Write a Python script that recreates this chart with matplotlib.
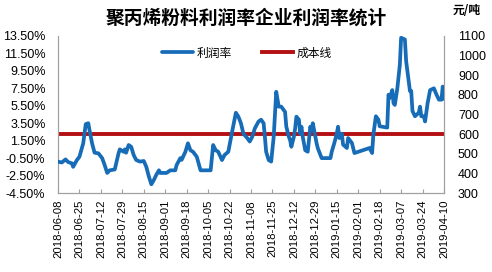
import matplotlib
matplotlib.use("Agg")
import matplotlib.pyplot as plt
import numpy as np
import pandas as pd

plt.rcParams['font.family'] = ['Liberation Sans', 'Noto Sans CJK SC', 'DejaVu Sans']

dates = [
    "2018-06-08", "2018-06-11", "2018-06-14", "2018-06-16", "2018-06-19", "2018-06-20",
    "2018-06-23", "2018-06-25", "2018-06-28", "2018-06-30", "2018-07-02", "2018-07-03",
    "2018-07-05", "2018-07-07", "2018-07-10", "2018-07-13", "2018-07-15", "2018-07-17",
    "2018-07-19", "2018-07-23", "2018-07-26", "2018-07-27", "2018-07-30", "2018-07-31",
    "2018-08-01", "2018-08-03", "2018-08-05", "2018-08-07", "2018-08-09", "2018-08-12",
    "2018-08-15", "2018-08-17", "2018-08-19", "2018-08-21", "2018-08-23", "2018-08-25",
    "2018-08-27", "2018-08-28", "2018-09-02", "2018-09-05", "2018-09-09", "2018-09-10",
    "2018-09-13", "2018-09-14", "2018-09-17", "2018-09-19", "2018-09-21", "2018-09-23",
    "2018-09-26", "2018-09-29", "2018-10-07", "2018-10-09", "2018-10-11", "2018-10-13",
    "2018-10-16", "2018-10-18", "2018-10-21", "2018-10-24", "2018-10-27", "2018-10-29",
    "2018-10-31", "2018-11-02", "2018-11-05", "2018-11-07", "2018-11-09", "2018-11-11",
    "2018-11-14", "2018-11-16", "2018-11-18", "2018-11-19", "2018-11-20", "2018-11-22",
    "2018-11-24", "2018-11-26", "2018-11-27", "2018-11-28", "2018-11-30", "2018-12-02",
    "2018-12-04", "2018-12-05", "2018-12-06", "2018-12-08", "2018-12-09", "2018-12-10",
    "2018-12-12", "2018-12-13", "2018-12-14", "2018-12-16", "2018-12-17", "2018-12-18",
    "2018-12-19", "2018-12-21", "2018-12-23", "2018-12-25", "2018-12-26", "2018-12-27",
    "2018-12-29", "2018-12-30", "2018-12-31", "2019-01-03", "2019-01-10", "2019-01-11",
    "2019-01-13", "2019-01-15", "2019-01-16", "2019-01-17", "2019-01-19", "2019-01-20",
    "2019-01-23", "2019-01-24", "2019-01-27", "2019-01-29", "2019-02-02", "2019-02-06",
    "2019-02-10", "2019-02-12", "2019-02-13", "2019-02-15", "2019-02-17", "2019-02-18",
    "2019-02-24", "2019-02-25", "2019-02-26", "2019-02-28", "2019-03-01", "2019-03-02",
    "2019-03-04", "2019-03-06", "2019-03-07", "2019-03-10", "2019-03-11", "2019-03-13",
    "2019-03-14", "2019-03-15", "2019-03-16", "2019-03-18", "2019-03-21", "2019-03-22",
    "2019-03-23", "2019-03-25", "2019-03-26", "2019-03-28", "2019-03-30", "2019-04-02",
    "2019-04-04", "2019-04-06", "2019-04-08", "2019-04-09", "2019-04-10",
]
profit_rate = [
    -0.91, -1.0, -0.65, -0.95, -1.1, -1.5,
    -0.72, -0.34, 1.2, 3.4, 3.5, 2.7,
    1.2, 0.12, 0.05, -0.5, -1.3, -2.2,
    -1.9, -1.8, 0.05, 0.5, 0.23, 0.5,
    0.12, 1.0, 0.8, -0.15, -0.72, -0.9,
    -0.83, -1.5, -2.6, -3.5, -3.0, -2.4,
    -1.9, -2.2, -2.2, -1.9, -1.9, -1.3,
    -0.5, -0.7, 0.23, 1.2, 0.4, 0.23,
    -0.34, -1.9, -1.9, 1.0, 0.4, 0.23,
    -0.72, -0.15, 0.23, 2.5, 4.7, 4.25,
    3.5, 2.3, 1.8, 1.4, 1.95, 2.9,
    3.7, 3.9, 3.5, 1.95, 0.23, -0.72,
    -0.9, 1.95, 4.63, 7.1, 5.4, 5.4,
    5.0, 4.8, 3.1, 1.95, 1.57, 0.8,
    1.95, 2.9, 4.25, 3.9, 2.3, 3.1,
    1.95, 0.4, 0.23, 3.1, 2.7, 3.5,
    1.95, 1.2, 0.62, -0.5, -0.5, 0.23,
    1.2, 2.3, 3.1, 1.8, 2.3, 1.05,
    0.66, 1.8, 1.23, 0.08, 0.27, 0.46,
    0.66, 0.08, 2.2, 4.3, 3.9, 3.15,
    3.0, 6.77, 6.4, 7.3, 5.8, 5.6,
    7.5, 10.2, 13.3, 13.1, 10.6, 8.3,
    7.2, 7.2, 4.9, 4.3, 4.7, 5.4,
    4.3, 4.3, 3.7, 5.8, 7.3, 7.5,
    6.8, 6.2, 6.2, 7.7, 6.3,
]
cost_line = 600
tick_dates = ["2018-06-08", "2018-06-25", "2018-07-12", "2018-07-29", "2018-08-15",
              "2018-09-01", "2018-09-18", "2018-10-05", "2018-10-22", "2018-11-08",
              "2018-11-25", "2018-12-12", "2018-12-29", "2019-01-15", "2019-02-01",
              "2019-02-18", "2019-03-07", "2019-03-24", "2019-04-10"]
left_ticks = [-4.5, -2.5, -0.5, 1.5, 3.5, 5.5, 7.5, 9.5, 11.5, 13.5]
right_ticks = [300, 400, 500, 600, 700, 800, 900, 1000, 1100]

x = pd.to_datetime(dates)
xt = pd.to_datetime(tick_dates)

fig = plt.figure(figsize=(4.92, 2.72), dpi=100)
ax = fig.add_axes([58/492, 79/272, 386/492, 157/272])
ax2 = ax.twinx()

blue = '#176cb8'
red = '#b40f12'
ax.plot(x, profit_rate, color=blue, lw=2.7, zorder=3, label='利润率',
        solid_joinstyle='round', solid_capstyle='round')
ax2.plot([x[0], x[-1]], [cost_line, cost_line], color=red, lw=2.8, label='成本线')
ax.set_zorder(ax2.get_zorder() + 1)
ax.patch.set_visible(False)

ax.set_xlim(xt[0], xt[-1])
ax.set_ylim(-4.5, 13.5)
ax2.set_ylim(300, 1100)
ax.set_yticks(left_ticks)
ax.set_yticklabels([f"{v:.2f}%" for v in left_ticks])
ax2.set_yticks(right_ticks)
ax2.set_yticklabels([str(v) for v in right_ticks])
ax.set_xticks(xt)
ax.set_xticklabels([d.strftime('%Y-%m-%d') for d in xt], rotation=90, fontsize=8.2)

for a in (ax, ax2):
    a.spines['top'].set_visible(False)
    for s in ('left', 'right', 'bottom'):
        a.spines[s].set_color('#a0a0a0')
        a.spines[s].set_linewidth(0.8)
ax.tick_params(axis='y', length=0, labelsize=9, pad=9)
ax2.tick_params(axis='y', length=0, labelsize=9, pad=10)
ax.tick_params(axis='x', direction='in', length=3, color='#a0a0a0', pad=5)

fig.text(0.5, 0.935, '聚丙烯粉料利润率企业利润率统计', ha='center', va='center',
         fontsize=13.5, fontweight='bold', family=['Noto Sans CJK SC'])
fig.text(0.948, 0.962, '元/吨', ha='center', va='center', fontsize=8.5,
         fontweight='bold', family=['Noto Sans CJK SC'])

h1, l1 = ax.get_legend_handles_labels()
h2, l2 = ax2.get_legend_handles_labels()
leg = ax.legend(h1 + h2, l1 + l2, loc='upper center', bbox_to_anchor=(0.49, 1.0), ncol=2,
                frameon=False, prop={'family': 'Noto Sans CJK SC', 'size': 8.5},
                handlelength=2.6, columnspacing=2.6, handletextpad=0.3)

fig.savefig('out.png', dpi=100)
